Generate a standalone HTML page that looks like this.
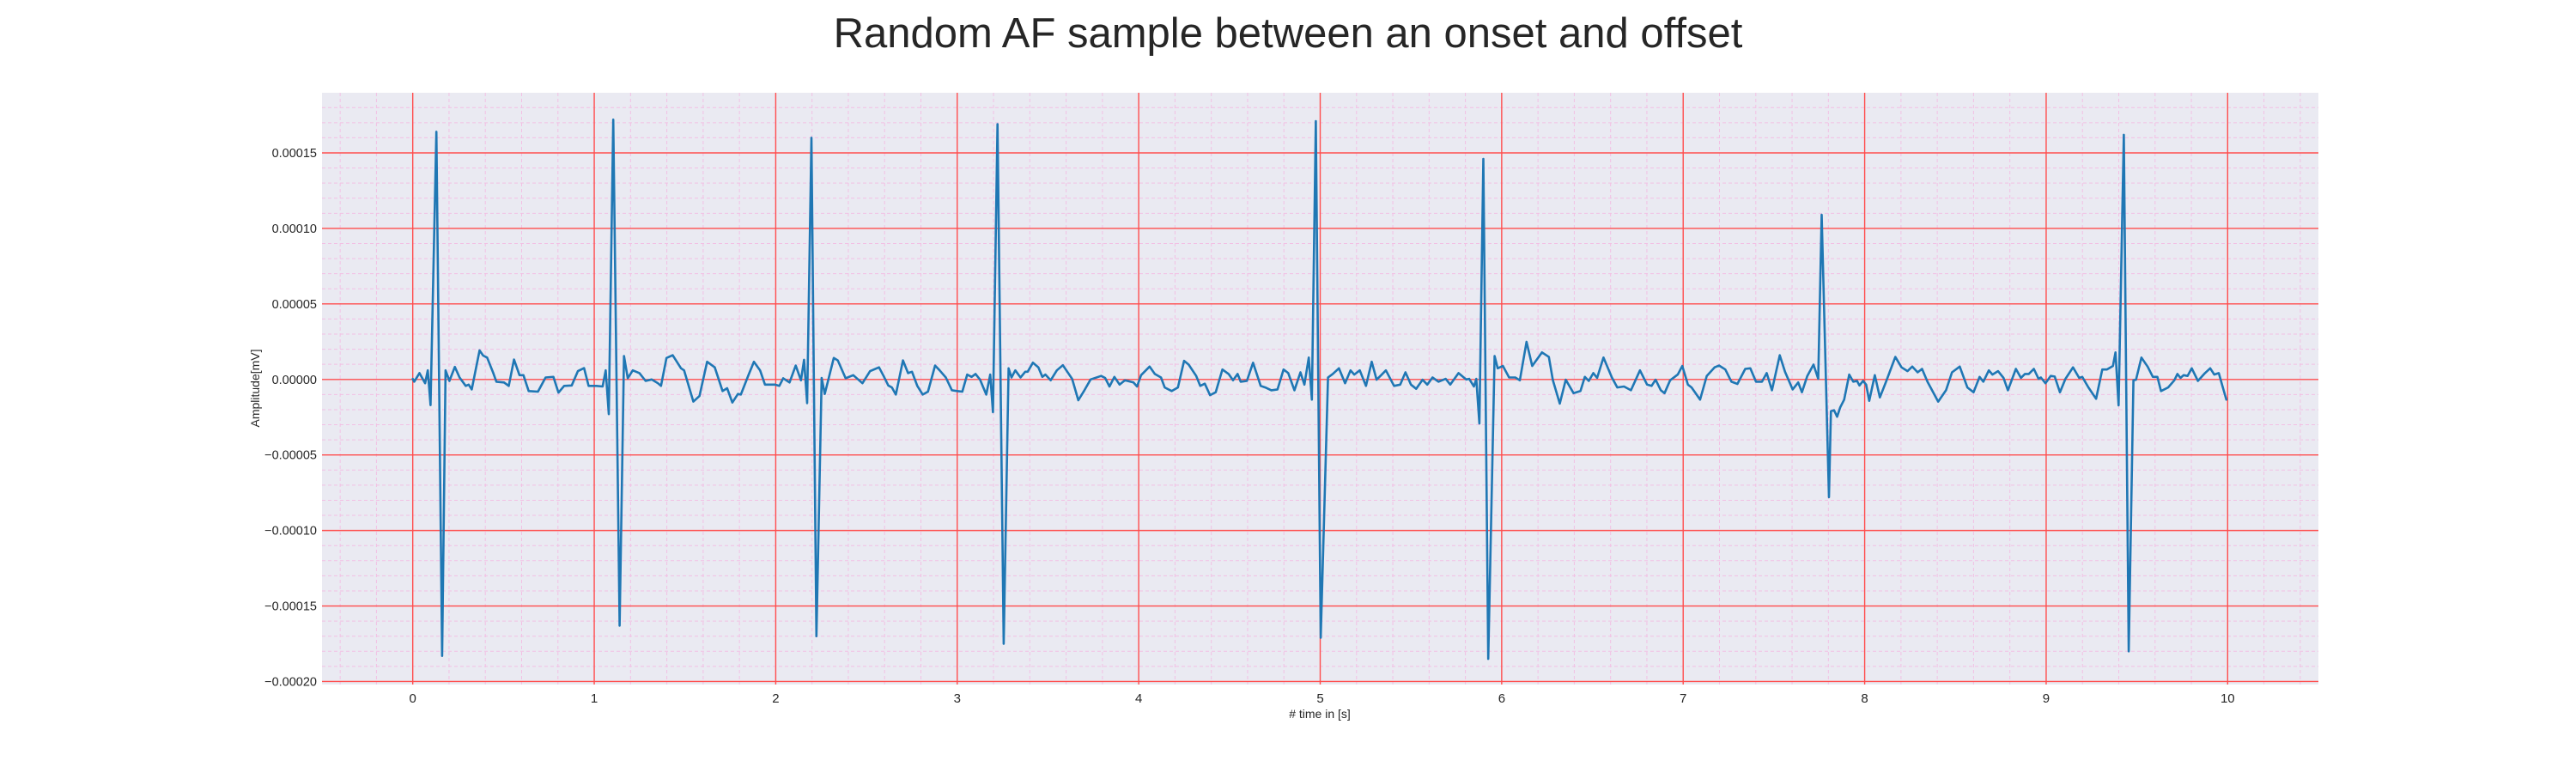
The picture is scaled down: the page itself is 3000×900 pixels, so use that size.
<!DOCTYPE html>
<html><head><meta charset="utf-8"><style>
html,body{margin:0;padding:0;background:#fff;}
svg{display:block;font-family:"Liberation Sans",Arial,sans-serif;}
</style></head><body>
<svg id="chart" width="3000" height="900" viewBox="0 0 3000 900" xmlns="http://www.w3.org/2000/svg">
<text x="1500" y="55" text-anchor="middle" font-size="49" fill="#262626">Random AF sample between an onset and offset</text>
<rect x="375" y="108" width="2325" height="689" fill="#eaeaf2"/>
<g id="minor-grid" opacity="0.75"></g>
<g id="major-grid"></g>
<g id="series"></g>
<g id="xticks"></g>
<g id="yticks"></g>
<text x="1537" y="836" text-anchor="middle" font-size="14" fill="#262626"># time in [s]</text>
<text x="0" y="0" transform="translate(302,452) rotate(-90)" text-anchor="middle" font-size="14" fill="#262626">Amplitude[mV]</text>
</svg>
<script>
const xTickValues = [0,1,2,3,4,5,6,7,8,9,10];
const yTickValues = [-0.0002,-0.00015,-0.0001,-0.00005,0,0.00005,0.0001,0.00015];
const yTickLabels = ["\u22120.00020","\u22120.00015","\u22120.00010","\u22120.00005","0.00000","0.00005","0.00010","0.00015"];
// time in seconds
const times = [0,0.008,0.037,0.068,0.083,0.098,0.13,0.162,0.181,0.202,0.232,0.258,0.292,0.308,0.325,0.368,0.388,0.41,0.444,0.461,0.503,0.529,0.558,0.588,0.61,0.639,0.69,0.732,0.775,0.803,0.834,0.876,0.91,0.944,0.969,1.012,1.046,1.063,1.08,1.105,1.14,1.164,1.185,1.212,1.249,1.283,1.317,1.351,1.368,1.398,1.432,1.478,1.495,1.546,1.58,1.622,1.664,1.707,1.732,1.761,1.792,1.808,1.851,1.88,1.914,1.941,1.995,2.02,2.041,2.076,2.11,2.139,2.156,2.173,2.197,2.224,2.253,2.27,2.32,2.342,2.385,2.427,2.478,2.52,2.569,2.594,2.62,2.64,2.662,2.701,2.729,2.751,2.78,2.81,2.839,2.878,2.903,2.937,2.971,3.0,3.028,3.055,3.079,3.101,3.126,3.16,3.182,3.197,3.222,3.256,3.283,3.299,3.32,3.349,3.375,3.388,3.417,3.447,3.469,3.486,3.515,3.549,3.582,3.633,3.667,3.701,3.735,3.793,3.815,3.839,3.866,3.895,3.924,3.971,3.991,4.013,4.06,4.089,4.123,4.143,4.182,4.216,4.25,4.275,4.317,4.339,4.364,4.393,4.424,4.461,4.495,4.52,4.545,4.562,4.596,4.63,4.672,4.697,4.731,4.765,4.798,4.824,4.858,4.891,4.913,4.937,4.954,4.976,5.003,5.043,5.069,5.103,5.137,5.167,5.188,5.218,5.252,5.284,5.311,5.336,5.362,5.407,5.441,5.47,5.5,5.529,5.564,5.59,5.619,5.652,5.691,5.717,5.762,5.804,5.821,5.847,5.86,5.877,5.899,5.926,5.961,5.978,6.007,6.041,6.075,6.1,6.137,6.168,6.222,6.26,6.282,6.32,6.353,6.396,6.434,6.458,6.48,6.505,6.526,6.561,6.607,6.637,6.674,6.712,6.762,6.801,6.826,6.848,6.877,6.897,6.928,6.97,6.995,7.026,7.046,7.093,7.13,7.173,7.198,7.232,7.266,7.299,7.342,7.37,7.401,7.434,7.46,7.489,7.532,7.561,7.603,7.634,7.654,7.684,7.718,7.744,7.763,7.803,7.814,7.831,7.848,7.865,7.887,7.915,7.937,7.958,7.971,7.991,8.008,8.025,8.056,8.084,8.118,8.169,8.203,8.236,8.262,8.292,8.316,8.346,8.405,8.448,8.481,8.524,8.566,8.6,8.633,8.654,8.684,8.704,8.735,8.765,8.789,8.833,8.861,8.883,8.904,8.932,8.958,8.971,8.996,9.025,9.047,9.076,9.106,9.148,9.182,9.199,9.233,9.275,9.309,9.334,9.368,9.382,9.399,9.428,9.455,9.481,9.495,9.525,9.559,9.588,9.613,9.633,9.672,9.706,9.723,9.74,9.757,9.779,9.802,9.836,9.875,9.904,9.926,9.951,9.971,9.993];
// amplitude in units of 1e-5 mV
const amplitudeE5 = [0.04,-0.15,0.42,-0.25,0.6,-1.7,16.4,-18.3,0.6,-0.1,0.83,0.13,-0.43,-0.34,-0.66,1.92,1.58,1.45,0.42,-0.15,-0.2,-0.43,1.32,0.28,0.28,-0.77,-0.81,0.13,0.17,-0.87,-0.43,-0.4,0.55,0.75,-0.43,-0.43,-0.47,0.6,-2.3,17.2,-16.3,1.55,0.08,0.6,0.42,-0.1,0,-0.25,-0.43,1.42,1.6,0.74,0.6,-1.47,-1.1,1.17,0.8,-0.77,-0.58,-1.53,-0.96,-1.0,0.32,1.17,0.6,-0.34,-0.34,-0.43,0.08,-0.2,0.92,-0.06,1.3,-1.57,16.0,-17.0,0.1,-0.96,1.42,1.26,0.08,0.28,-0.25,0.55,0.8,0.23,-0.4,-0.53,-1.0,1.26,0.42,0.51,-0.43,-1.0,-0.81,0.92,0.6,0.13,-0.72,-0.77,-0.81,0.32,0.17,0.36,-0.02,-1.0,0.32,-2.17,16.9,-17.5,0.74,0.13,0.6,0.13,0.51,0.51,1.11,0.8,0.17,0.32,-0.06,0.6,0.94,0.04,-1.38,-0.72,0,0.23,0.1,-0.47,0.17,-0.34,-0.06,-0.2,-0.47,0.28,0.85,0.36,0.13,-0.53,-0.77,-0.53,1.23,0.98,0.23,-0.43,-0.28,-1.04,-0.85,0.66,0.36,-0.06,0.36,-0.15,-0.1,1.11,-0.43,-0.53,-0.72,-0.66,0.66,0.42,-0.72,0.47,-0.34,1.45,-1.34,17.1,-17.1,0.13,0.36,0.74,-0.25,0.6,0.32,0.6,-0.43,1.17,-0.02,0.28,0.6,-0.43,-0.34,0.47,-0.34,-0.62,-0.02,-0.34,0.13,-0.15,0.04,-0.34,0.42,0,0.04,-0.47,0.04,-2.92,14.6,-18.5,1.55,0.74,0.89,0.13,0.13,-0.06,2.49,0.89,1.79,1.49,-0.06,-1.6,-0.02,-0.91,-0.77,0.17,-0.1,0.42,0.1,1.45,0.13,-0.53,-0.47,-0.72,0.6,-0.34,-0.43,-0.02,-0.72,-0.91,-0.06,0.32,0.89,-0.34,-0.53,-1.34,0.23,0.8,0.92,0.66,-0.15,-0.3,0.7,0.74,-0.15,-0.15,0.42,-0.72,1.6,0.51,-0.66,-0.2,-0.85,0.23,0.98,0.04,10.9,-7.8,-2.1,-2.04,-2.47,-1.85,-1.34,0.32,-0.15,-0.1,-0.4,-0.1,-0.34,-1.42,0.28,-1.19,-0.15,1.49,0.8,0.55,0.85,0.47,0.7,-0.15,-1.47,-0.72,0.47,0.85,-0.53,-0.85,0.17,-0.15,0.6,0.32,0.55,0.1,-0.72,0.7,0.1,0.36,0.36,0.7,0.04,0.13,-0.25,0.23,0.19,-0.85,0.04,0.8,0.1,0.17,-0.53,-1.28,0.66,0.66,0.89,1.79,-1.72,16.2,-18.0,-0.06,-0.02,1.45,0.85,0.17,0.17,-0.77,-0.53,-0.06,0.36,0.1,0.28,0.23,0.74,-0.1,0.42,0.74,0.32,0.42,-0.43,-1.34];

const NS = "http://www.w3.org/2000/svg";
const PL = 375, PR = 2700, PT = 108, PB = 797;
const X0 = -0.5, X1 = 10.5;
const Y0 = -0.000202, Y1 = 0.0001898;
function xScale(t){ return PL + (t - X0) / (X1 - X0) * (PR - PL); }
function yScale(v){ return PB - (v - Y0) / (Y1 - Y0) * (PB - PT); }
function mk(tag, attrs, parent){
  const el = document.createElementNS(NS, tag);
  for (const k in attrs) el.setAttribute(k, attrs[k]);
  parent.appendChild(el);
  return el;
}
const minorG = document.getElementById('minor-grid');
const majorG = document.getElementById('major-grid');
for (let i = -2; i <= 52; i++) {
  if (i % 5 === 0) continue;
  const x = xScale(i * 0.2);
  const l = mk('line', {x1:x, x2:x, y1:PT, y2:PB, stroke:'#f5b3e0', 'stroke-width':1, 'stroke-dasharray':'4,3'}, minorG);
  
  
}
for (let i = -20; i <= 18; i++) {
  if (i % 5 === 0) continue;
  const y = yScale(i * 0.00001);
  const l = mk('line', {x1:PL, x2:PR, y1:y, y2:y, stroke:'#f5b3e0', 'stroke-width':1, 'stroke-dasharray':'4,3'}, minorG);
  
  
}
const xtG = document.getElementById('xticks');
xTickValues.forEach(v => {
  const x = xScale(v);
  const l = mk('line', {x1:x, x2:x, y1:PT, y2:PB, stroke:'#ff4d4d', 'stroke-width':1.4}, majorG);
  
  
  const t = mk('text', {x:x, y:818, 'text-anchor':'middle', 'font-size':15, fill:'#262626'}, xtG);
  t.textContent = String(v);
  
  
});
const ytG = document.getElementById('yticks');
yTickValues.forEach((v, i) => {
  const y = yScale(v);
  const l = mk('line', {x1:PL, x2:PR, y1:y, y2:y, stroke:'#ff4d4d', 'stroke-width':1.4}, majorG);
  
  
  const t = mk('text', {x:369, y:y + 5, 'text-anchor':'end', 'font-size':14.5, fill:'#262626'}, ytG);
  t.textContent = yTickLabels[i];
  
  
});
const pts = times.map((t, i) => xScale(t).toFixed(1) + ',' + yScale(amplitudeE5[i] * 1e-5).toFixed(1)).join(' ');
const line = mk('polyline', {points: pts, fill:'none', stroke:'#1f77b4', 'stroke-width':2.6, 'stroke-linejoin':'round', 'stroke-linecap':'round'}, document.getElementById('series'));


</script>
</body></html>
